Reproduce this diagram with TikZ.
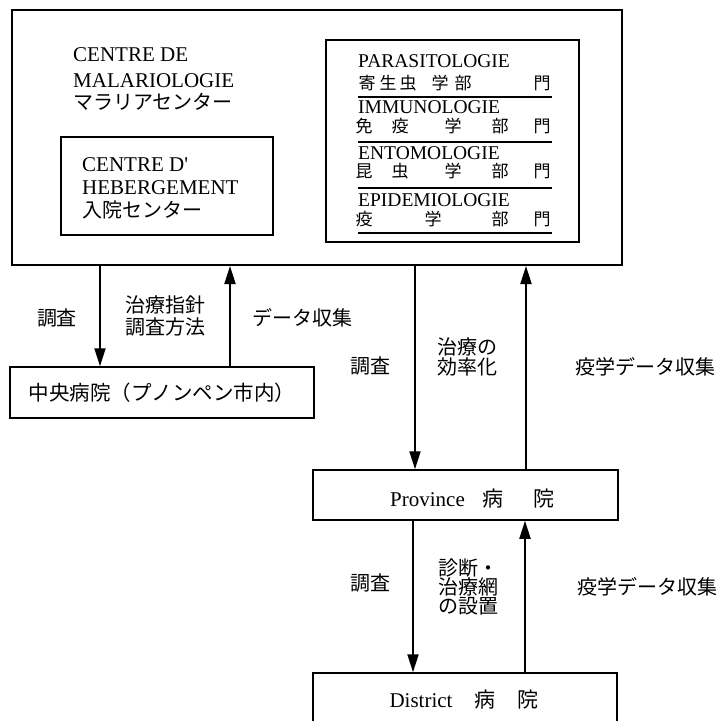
\documentclass[tikz,border=0pt]{standalone}
\usepackage{fontspec}
\setmainfont{Liberation Serif}
\newfontfamily\jp{Noto Sans CJK JP}
\usetikzlibrary{arrows.meta}
\begin{document}
\begin{tikzpicture}[x=1pt,y=-1pt,
 box/.style={draw, line width=1.5pt, inner sep=0pt},
 lat/.style={font=\fontsize{21}{24}\selectfont, inner sep=0pt, anchor=west},
 latr/.style={font=\fontsize{19.5}{22}\selectfont, inner sep=0pt, anchor=west},
 jpl/.style={font=\fontsize{20}{23}\selectfont\jp, inner sep=0pt, align=center},
 jps/.style={font=\fontsize{17}{19}\selectfont\jp, inner sep=0pt},
 arr/.style={line width=2pt, -{Triangle[length=18pt,width=11pt]}},
 uline/.style={line width=1.2pt}]
\useasboundingbox (0,0) rectangle (717,721);
\fill[white] (0,0) rectangle (717,721);
\clip (0,0) rectangle (717,721);

% boxes
\node[box, line width=2pt, minimum width=610pt, minimum height=255pt] (malaria) at (317,137.5) {};
\node[box, minimum width=212pt, minimum height=98pt] (heberg) at (167,186) {};
\node[box, minimum width=253pt, minimum height=202pt] (dept) at (452.5,141) {};
\node[box, minimum width=304pt, minimum height=51pt] (central) at (162,392.5) {};
\node[box, minimum width=305pt, minimum height=50pt] (province) at (465.5,495) {};
\node[box, minimum width=304pt, minimum height=60pt] (district) at (465,703) {};

% left top texts
\node[lat] (t1) at (73,55) {CENTRE DE};
\node[lat] (t2) at (73,81) {MALARIOLOGIE};
\node[lat, font=\fontsize{20}{22}\selectfont\jp] (t3) at (73,102) {マラリアセンター};
\node[lat] (h1) at (82,165) {CENTRE D\textquotesingle};
\node[lat] (h2) at (82,188) {HEBERGEMENT};
\node[lat, font=\fontsize{20}{22}\selectfont\jp] (h3) at (82,210) {入院センター};

% departments
\node[latr] (d1) at (358,61) {PARASITOLOGIE};
\node[jps] (d1a) at (367,83) {寄};
\node[jps] (d1b) at (388,83) {生};
\node[jps] (d1c) at (408,83) {虫};
\node[jps] (d1d) at (440,83) {学};
\node[jps] (d1e) at (463,83) {部};
\node[jps] (d1f) at (542,83) {門};
\draw[uline] (358,97) -- (552,97);
\node[latr] (d2) at (358,107) {IMMUNOLOGIE};
\node[jps] (d2a) at (364,126) {免};
\node[jps] (d2b) at (400,126) {疫};
\node[jps] (d2c) at (453,126) {学};
\node[jps] (d2d) at (500,126) {部};
\node[jps] (d2e) at (542,126) {門};
\draw[uline] (358,142) -- (552,142);
\node[latr] (d3) at (358,153) {ENTOMOLOGIE};
\node[jps] (d3a) at (364,171) {昆};
\node[jps] (d3b) at (400,171) {虫};
\node[jps] (d3c) at (453,171) {学};
\node[jps] (d3d) at (500,171) {部};
\node[jps] (d3e) at (542,171) {門};
\draw[uline] (358,188) -- (552,188);
\node[latr] (d4) at (358,200) {EPIDEMIOLOGIE};
\node[jps] (d4a) at (364,219) {疫};
\node[jps] (d4b) at (433,219) {学};
\node[jps] (d4c) at (500,219) {部};
\node[jps] (d4d) at (542,219) {門};
\draw[uline] (358,233) -- (552,233);

% hospital texts
\node[jpl, font=\fontsize{20.5}{23}\selectfont\jp] (ct) at (162,393) {中央病院（プノンペン市内）};
\node[inner sep=0pt, font=\fontsize{21}{24}\selectfont] (pt) at (472.5,499) {Province\hspace{18pt}{\jp 病}\hspace{30pt}{\jp 院}};
\node[inner sep=0pt, font=\fontsize{21}{24}\selectfont] (dt) at (464,700) {District\hspace{22pt}{\jp 病}\hspace{22pt}{\jp 院}};

% arrows
\coordinate (xa) at (100,0);
\coordinate (xb) at (230,0);
\coordinate (xc) at (415,0);
\coordinate (xd) at (526,0);
\coordinate (xe) at (413,0);
\coordinate (xf) at (525,0);
\draw[arr] (malaria.south -| xa) -- (central.north -| xa);
\draw[arr] (central.north -| xb) -- (malaria.south -| xb);
\draw[arr] (malaria.south -| xc) -- (province.north -| xc);
\draw[arr] (province.north -| xd) -- (malaria.south -| xd);
\draw[arr] (province.south -| xe) -- (district.north -| xe);
\draw[arr] (district.north -| xf) -- (province.south -| xf);

% arrow labels
\node[jpl] (l1) at (57,318) {調査};
\node[jpl, font=\fontsize{20}{22}\selectfont\jp] (l2) at (165,316) {治療指針\\調査方法};
\node[jpl] (l3) at (302,318) {データ収集};
\node[jpl] (l4) at (370,366) {調査};
\node[jpl, font=\fontsize{20}{20.5}\selectfont\jp] (l5) at (467,357) {治療の\\効率化};
\node[jpl] (l6) at (645,367) {疫学データ収集};
\node[jpl] (l7) at (370,583) {調査};
\node[jpl, align=left, anchor=west, font=\fontsize{20}{19}\selectfont\jp] (l8) at (438,587) {診断・\\治療網\\の設置};
\node[jpl] (l9) at (647,587) {疫学データ収集};
\end{tikzpicture}
\end{document}
